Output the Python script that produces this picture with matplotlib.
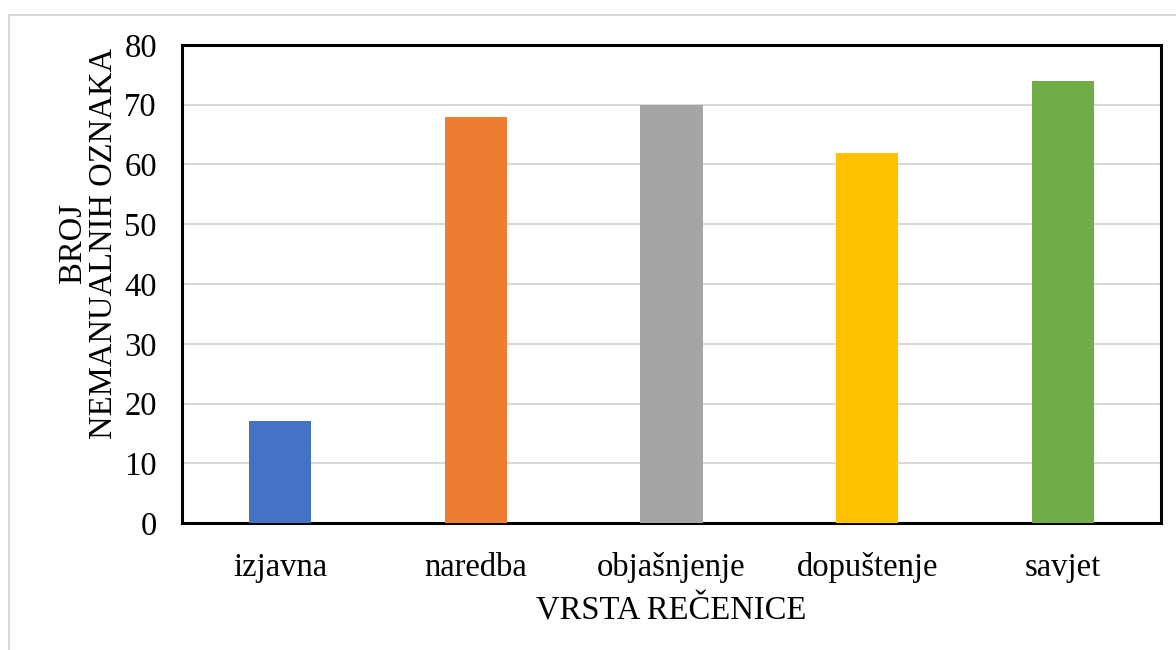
import matplotlib
matplotlib.use("Agg")
import matplotlib.pyplot as plt
from matplotlib.patches import Rectangle

categories = ["izjavna", "naredba", "objašnjenje", "dopuštenje", "savjet"]
values = [17, 68, 70, 62, 74]
colors = ["#4472C4", "#ED7D31", "#A5A5A5", "#FFC000", "#70AD47"]
yticks = [0, 10, 20, 30, 40, 50, 60, 70, 80]

plt.rcParams['font.family'] = ['Liberation Serif', 'DejaVu Serif']

W, H = 1176, 650
FS = 23.5
fig = plt.figure(figsize=(W/100, H/100), dpi=100)
ax = fig.add_axes([182/W, 1 - 523/H, (1161-182)/W, (523-45)/H])

x = list(range(len(categories)))
ax.bar(x, values, width=0.317, color=colors, zorder=3)
ax.set_xlim(-0.5, len(categories) - 0.5)
ax.set_ylim(0, 80)
ax.set_yticks(yticks)
ax.set_xticks(x)
ax.set_xticklabels(categories)
ax.tick_params(axis='both', length=0, labelsize=FS, colors='black')
ax.tick_params(axis='x', pad=21)
ax.tick_params(axis='y', pad=18)
ax.yaxis.grid(True, color='#d9d9d9', linewidth=1.5, zorder=0)
ax.set_axisbelow(True)
for s in ax.spines.values():
    s.set_linewidth(2.2)
    s.set_color('black')

ax.set_xlabel("VRSTA REČENICE", fontsize=FS, labelpad=9)
ax.set_ylabel("BROJ\nNEMANUALNIH OZNAKA", fontsize=FS, labelpad=8, linespacing=1.05)
ax.yaxis.set_label_coords(-0.064, (523 - 243) / (523 - 45))

# outer chart border
fig.patches.append(Rectangle((9/W, -0.1), 1.2, 1 - 15/H + 0.1, transform=fig.transFigure,
                             fill=False, edgecolor='#d9d9d9', linewidth=1.5, zorder=0))

fig.savefig("out.png", dpi=100)
